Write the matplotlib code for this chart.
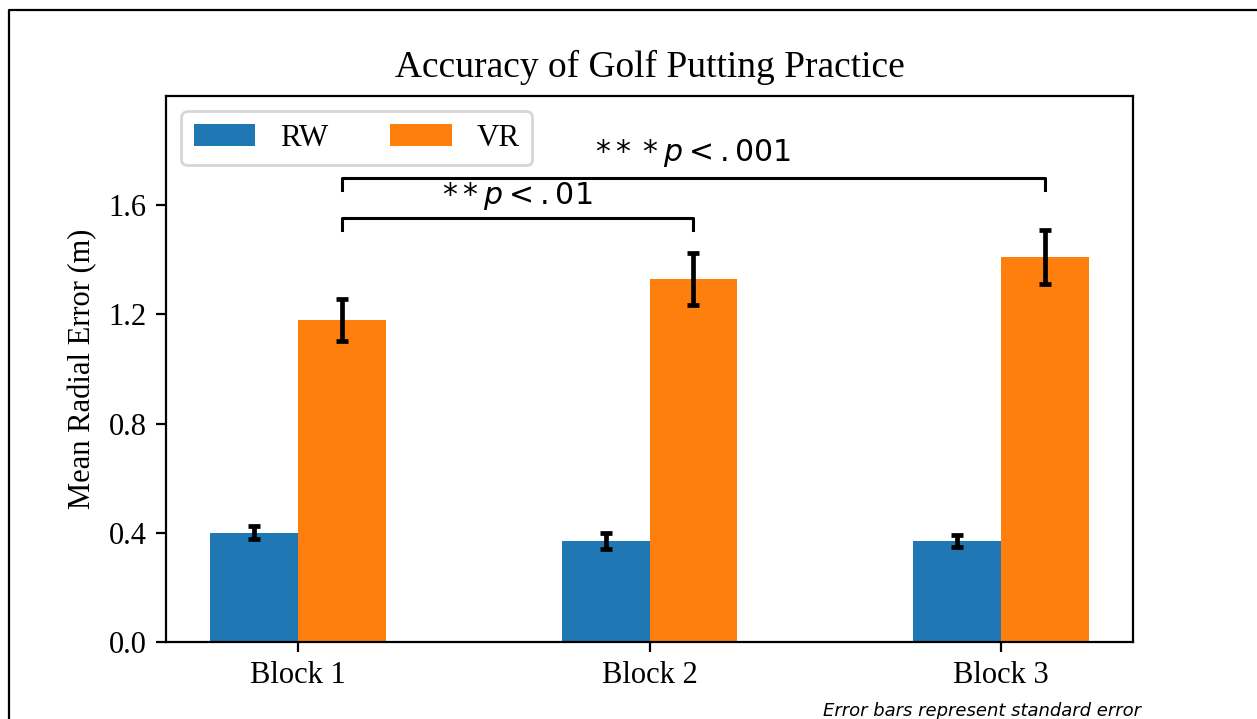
import matplotlib
matplotlib.use("Agg")
import matplotlib.pyplot as plt
import numpy as np
from matplotlib.lines import Line2D

blocks = ["Block 1", "Block 2", "Block 3"]
rw_mean = [0.40, 0.37, 0.37]
rw_se = [0.024, 0.030, 0.022]
vr_mean = [1.18, 1.33, 1.41]
vr_se = [0.078, 0.095, 0.098]
yticks = [0.0, 0.4, 0.8, 1.2, 1.6]
sig_labels = [r"$**p<.01$", r"$***p<.001$"]

plt.rcParams['font.family'] = ['Liberation Serif', 'DejaVu Serif']
plt.rcParams['mathtext.fontset'] = 'dejavusans'

fig = plt.figure(figsize=(6.285, 3.595), dpi=200)
ax = fig.add_axes([166/1257, 1 - 642/719, (1133 - 166)/1257, (642 - 96)/719])

x = np.arange(len(blocks))
w = 0.25
ax.bar(x - w/2, rw_mean, w, yerr=rw_se, capsize=2.2, color='#1f77b4', label='RW',
       error_kw=dict(elinewidth=1.7, capthick=1.7, ecolor='black'))
ax.bar(x + w/2, vr_mean, w, yerr=vr_se, capsize=2.2, color='#ff7f0e', label='VR',
       error_kw=dict(elinewidth=1.7, capthick=1.7, ecolor='black'))

ax.set_ylim(0, 2.0)
ax.set_yticks(yticks)
ax.set_yticklabels([f"{t:.1f}" for t in yticks], fontsize=11)
ax.set_xticks(x)
ax.set_xticklabels(blocks, fontsize=11)
ax.set_ylabel("Mean Radial Error (m)", fontsize=11)
ax.set_title("Accuracy of Golf Putting Practice", fontsize=13.5, pad=7)
ax.legend(loc='upper left', ncol=2, fontsize=11.1)

# significance brackets
def bracket(x1, x2, y, h, text, ty):
    ax.plot([x1, x1, x2, x2], [y - h, y, y, y - h], color='black', lw=1.1)
    ax.text((x1 + x2) / 2, ty, text, ha='center', va='center', fontsize=10.8)

bracket(x[0] + w/2, x[1] + w/2, 1.553, 0.045, sig_labels[0], 1.635)
bracket(x[0] + w/2, x[2] + w/2, 1.699, 0.045, sig_labels[1], 1.79)

fig.text(982/1257, 1 - 711/719, "Error bars represent standard error",
         ha='center', va='center', fontsize=6.5, style='italic', family='DejaVu Sans')

# outer frame (partially visible)
fig.add_artist(Line2D([9/1257, 9/1257, 1.01], [-0.01, 1 - 10/719, 1 - 10/719],
                      transform=fig.transFigure, color='black', lw=0.8))

fig.savefig("out.png", dpi=200)
